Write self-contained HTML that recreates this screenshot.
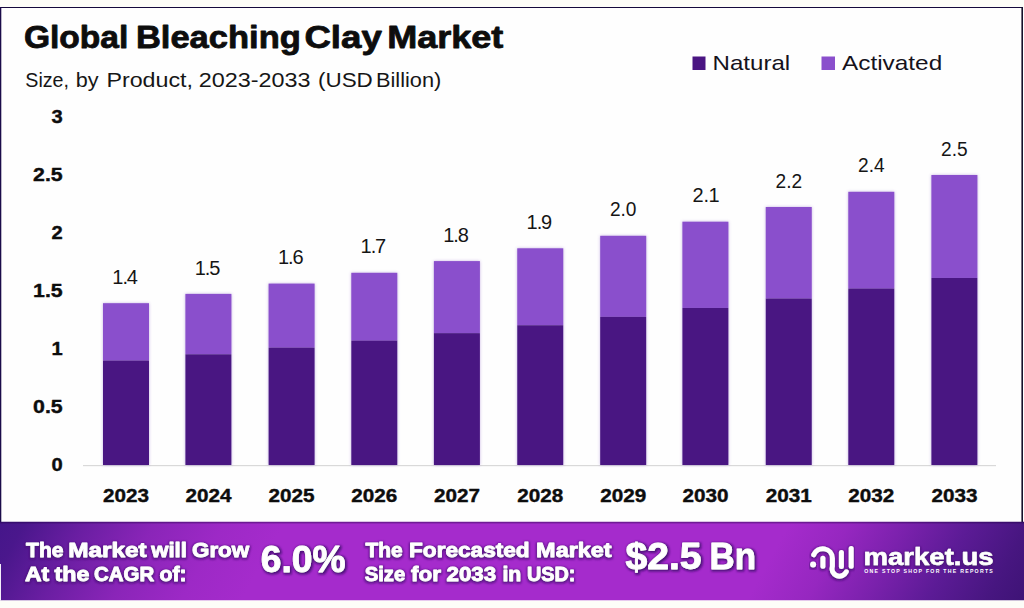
<!DOCTYPE html>
<html lang="en"><head><meta charset="utf-8"><title>Global Bleaching Clay Market</title>
<style>
html,body{margin:0;padding:0;background:#fefefe;}
body{width:1024px;height:608px;overflow:hidden;font-family:"Liberation Sans",sans-serif;}
svg{display:block;font-family:"Liberation Sans",sans-serif;}
</style></head><body>
<svg width="1024" height="608" viewBox="0 0 1024 608">
<defs>
<linearGradient id="band" gradientUnits="userSpaceOnUse" x1="0" y1="522" x2="819.1" y2="972.5">
<stop offset="0.0000" stop-color="#45168a"/>
<stop offset="0.0234" stop-color="#4a178c"/>
<stop offset="0.0797" stop-color="#6a1ea2"/>
<stop offset="0.1453" stop-color="#8a25b8"/>
<stop offset="0.2109" stop-color="#9d29c6"/>
<stop offset="0.2671" stop-color="#a52bcc"/>
<stop offset="0.7405" stop-color="#a52bcc"/>
<stop offset="0.7967" stop-color="#9627c0"/>
<stop offset="0.8529" stop-color="#7a21ac"/>
<stop offset="0.9092" stop-color="#5c1b96"/>
<stop offset="0.9654" stop-color="#471680"/>
<stop offset="1.0000" stop-color="#3e1376"/>
</linearGradient>
<filter id="sh" x="-10%" y="-30%" width="120%" height="170%">
<feMorphology in="SourceAlpha" operator="dilate" radius="1.3" result="d"/>
<feGaussianBlur in="d" stdDeviation="1.2" result="b"/>
<feOffset in="b" dx="1.0" dy="1.3" result="o"/>
<feFlood flood-color="#4b1079" flood-opacity="0.95"/>
<feComposite in2="o" operator="in" result="s"/>
<feMerge><feMergeNode in="s"/><feMergeNode in="SourceGraphic"/></feMerge>
</filter>
<filter id="sh2" x="-10%" y="-30%" width="120%" height="170%">
<feMorphology in="SourceAlpha" operator="dilate" radius="0.6" result="d"/>
<feGaussianBlur in="d" stdDeviation="1.0" result="b"/>
<feOffset in="b" dx="0.4" dy="0.8" result="o"/>
<feFlood flood-color="#4b1079" flood-opacity="0.8"/>
<feComposite in2="o" operator="in" result="s"/>
<feMerge><feMergeNode in="s"/><feMergeNode in="SourceGraphic"/></feMerge>
</filter>
<filter id="bsh" x="-20%" y="-5%" width="140%" height="110%">
<feDropShadow dx="0" dy="0" stdDeviation="1.5" flood-color="#7a4fc0" flood-opacity="0.45"/>
</filter>
</defs>

<rect x="0" y="0" width="1024" height="608" fill="#fefefe"/>
<rect x="0" y="0" width="1024" height="7" fill="#fdfdf8"/>
<rect x="0" y="7" width="1023" height="1" fill="#15093c"/>
<rect x="0" y="7" width="1.3" height="516" fill="#1b0b4a"/>
<rect x="1021.4" y="7" width="1.6" height="516" fill="#14102a"/>
<text x="23.9" y="47.5" font-size="31.1" font-weight="bold" fill="#0d0d0d" text-anchor="start" textLength="104.4" lengthAdjust="spacingAndGlyphs" stroke="#0d0d0d" stroke-width="0.8" stroke-linejoin="round">Global</text>
<text x="135.9" y="47.5" font-size="31.1" font-weight="bold" fill="#0d0d0d" text-anchor="start" textLength="164.9" lengthAdjust="spacingAndGlyphs" stroke="#0d0d0d" stroke-width="0.8" stroke-linejoin="round">Bleaching</text>
<text x="304.4" y="47.5" font-size="31.1" font-weight="bold" fill="#0d0d0d" text-anchor="start" textLength="77.4" lengthAdjust="spacingAndGlyphs" stroke="#0d0d0d" stroke-width="0.8" stroke-linejoin="round">Clay</text>
<text x="387.15" y="47.5" font-size="31.1" font-weight="bold" fill="#0d0d0d" text-anchor="start" textLength="116.2" lengthAdjust="spacingAndGlyphs" stroke="#0d0d0d" stroke-width="0.8" stroke-linejoin="round">Market</text>
<text x="25.3" y="87" font-size="20" font-weight="normal" fill="#161616" text-anchor="start" textLength="43.7" lengthAdjust="spacingAndGlyphs">Size,</text>
<text x="75.7" y="87" font-size="20" font-weight="normal" fill="#161616" text-anchor="start" textLength="22.8" lengthAdjust="spacingAndGlyphs">by</text>
<text x="106.4" y="87" font-size="20" font-weight="normal" fill="#161616" text-anchor="start" textLength="86.6" lengthAdjust="spacingAndGlyphs">Product,</text>
<text x="198.8" y="87" font-size="20" font-weight="normal" fill="#161616" text-anchor="start" textLength="111.8" lengthAdjust="spacingAndGlyphs">2023-2033</text>
<text x="318.0" y="87" font-size="20" font-weight="normal" fill="#161616" text-anchor="start" textLength="54.8" lengthAdjust="spacingAndGlyphs">(USD</text>
<text x="376.0" y="87" font-size="20" font-weight="normal" fill="#161616" text-anchor="start" textLength="65.3" lengthAdjust="spacingAndGlyphs">Billion)</text>
<rect x="692.5" y="56.5" width="13" height="13.5" fill="#4a1582"/>
<text x="712.6" y="69.5" font-size="20.3" font-weight="normal" fill="#15121c" text-anchor="start" textLength="77.6" lengthAdjust="spacingAndGlyphs">Natural</text>
<rect x="821.5" y="56.5" width="13.5" height="13.5" fill="#8a4fcc"/>
<text x="842.0" y="69.5" font-size="20.3" font-weight="normal" fill="#15121c" text-anchor="start" textLength="100.2" lengthAdjust="spacingAndGlyphs">Activated</text>
<text x="62.7" y="470.7" font-size="18.9" font-weight="bold" fill="#0d0d0d" text-anchor="end" textLength="11.2" lengthAdjust="spacingAndGlyphs" stroke="#0d0d0d" stroke-width="0.4" stroke-linejoin="round">0</text>
<text x="62.7" y="412.7" font-size="18.9" font-weight="bold" fill="#0d0d0d" text-anchor="end" textLength="29.6" lengthAdjust="spacingAndGlyphs" stroke="#0d0d0d" stroke-width="0.4" stroke-linejoin="round">0.5</text>
<text x="62.7" y="354.7" font-size="18.9" font-weight="bold" fill="#0d0d0d" text-anchor="end" textLength="11.2" lengthAdjust="spacingAndGlyphs" stroke="#0d0d0d" stroke-width="0.4" stroke-linejoin="round">1</text>
<text x="62.7" y="296.7" font-size="18.9" font-weight="bold" fill="#0d0d0d" text-anchor="end" textLength="29.6" lengthAdjust="spacingAndGlyphs" stroke="#0d0d0d" stroke-width="0.4" stroke-linejoin="round">1.5</text>
<text x="62.7" y="238.7" font-size="18.9" font-weight="bold" fill="#0d0d0d" text-anchor="end" textLength="11.2" lengthAdjust="spacingAndGlyphs" stroke="#0d0d0d" stroke-width="0.4" stroke-linejoin="round">2</text>
<text x="62.7" y="180.7" font-size="18.9" font-weight="bold" fill="#0d0d0d" text-anchor="end" textLength="29.6" lengthAdjust="spacingAndGlyphs" stroke="#0d0d0d" stroke-width="0.4" stroke-linejoin="round">2.5</text>
<text x="62.7" y="122.7" font-size="18.9" font-weight="bold" fill="#0d0d0d" text-anchor="end" textLength="11.2" lengthAdjust="spacingAndGlyphs" stroke="#0d0d0d" stroke-width="0.4" stroke-linejoin="round">3</text>
<rect x="83" y="465" width="913" height="1.2" fill="#d9d9d9"/>
<g filter="url(#bsh)">
<rect x="103.00" y="303.20" width="46.0" height="57.35" fill="#8a4fcc"/>
<rect x="103.00" y="360.55" width="46.0" height="104.45" fill="#4a1582"/>
<rect x="185.40" y="293.90" width="46.0" height="60.39" fill="#8a4fcc"/>
<rect x="185.40" y="354.29" width="46.0" height="110.71" fill="#4a1582"/>
<rect x="268.60" y="283.60" width="46.0" height="64.04" fill="#8a4fcc"/>
<rect x="268.60" y="347.64" width="46.0" height="117.36" fill="#4a1582"/>
<rect x="351.30" y="272.80" width="46.0" height="67.80" fill="#8a4fcc"/>
<rect x="351.30" y="340.60" width="46.0" height="124.40" fill="#4a1582"/>
<rect x="433.90" y="261.10" width="46.0" height="72.04" fill="#8a4fcc"/>
<rect x="433.90" y="333.14" width="46.0" height="131.86" fill="#4a1582"/>
<rect x="517.25" y="248.30" width="46.0" height="76.93" fill="#8a4fcc"/>
<rect x="517.25" y="325.23" width="46.0" height="139.77" fill="#4a1582"/>
<rect x="600.20" y="235.80" width="46.0" height="81.04" fill="#8a4fcc"/>
<rect x="600.20" y="316.84" width="46.0" height="148.16" fill="#4a1582"/>
<rect x="682.40" y="221.70" width="46.0" height="86.25" fill="#8a4fcc"/>
<rect x="682.40" y="307.95" width="46.0" height="157.05" fill="#4a1582"/>
<rect x="765.75" y="207.00" width="46.0" height="91.53" fill="#8a4fcc"/>
<rect x="765.75" y="298.53" width="46.0" height="166.47" fill="#4a1582"/>
<rect x="848.30" y="191.80" width="46.0" height="96.74" fill="#8a4fcc"/>
<rect x="848.30" y="288.54" width="46.0" height="176.46" fill="#4a1582"/>
<rect x="931.40" y="175.00" width="46.0" height="102.95" fill="#8a4fcc"/>
<rect x="931.40" y="277.95" width="46.0" height="187.05" fill="#4a1582"/>
</g>
<text x="125.1" y="283.8" font-size="20" font-weight="normal" fill="#151515" text-anchor="middle">1<tspan dx="-1.0">.</tspan><tspan dx="-1.2">4</tspan></text>
<text x="103.0" y="501.5" font-size="18.9" font-weight="bold" fill="#0d0d0d" text-anchor="start" textLength="46" lengthAdjust="spacingAndGlyphs" stroke="#0d0d0d" stroke-width="0.4" stroke-linejoin="round">2023</text>
<text x="207.5" y="274.5" font-size="20" font-weight="normal" fill="#151515" text-anchor="middle">1<tspan dx="-1.0">.</tspan><tspan dx="-1.2">5</tspan></text>
<text x="185.4" y="501.5" font-size="18.9" font-weight="bold" fill="#0d0d0d" text-anchor="start" textLength="46" lengthAdjust="spacingAndGlyphs" stroke="#0d0d0d" stroke-width="0.4" stroke-linejoin="round">2024</text>
<text x="290.7" y="264.2" font-size="20" font-weight="normal" fill="#151515" text-anchor="middle">1<tspan dx="-1.0">.</tspan><tspan dx="-1.2">6</tspan></text>
<text x="268.6" y="501.5" font-size="18.9" font-weight="bold" fill="#0d0d0d" text-anchor="start" textLength="46" lengthAdjust="spacingAndGlyphs" stroke="#0d0d0d" stroke-width="0.4" stroke-linejoin="round">2025</text>
<text x="373.4" y="253.4" font-size="20" font-weight="normal" fill="#151515" text-anchor="middle">1<tspan dx="-1.0">.</tspan><tspan dx="-1.2">7</tspan></text>
<text x="351.3" y="501.5" font-size="18.9" font-weight="bold" fill="#0d0d0d" text-anchor="start" textLength="46" lengthAdjust="spacingAndGlyphs" stroke="#0d0d0d" stroke-width="0.4" stroke-linejoin="round">2026</text>
<text x="456.0" y="241.7" font-size="20" font-weight="normal" fill="#151515" text-anchor="middle">1<tspan dx="-1.0">.</tspan><tspan dx="-1.2">8</tspan></text>
<text x="433.9" y="501.5" font-size="18.9" font-weight="bold" fill="#0d0d0d" text-anchor="start" textLength="46" lengthAdjust="spacingAndGlyphs" stroke="#0d0d0d" stroke-width="0.4" stroke-linejoin="round">2027</text>
<text x="539.4" y="228.9" font-size="20" font-weight="normal" fill="#151515" text-anchor="middle">1<tspan dx="-1.0">.</tspan><tspan dx="-1.2">9</tspan></text>
<text x="517.2" y="501.5" font-size="18.9" font-weight="bold" fill="#0d0d0d" text-anchor="start" textLength="46" lengthAdjust="spacingAndGlyphs" stroke="#0d0d0d" stroke-width="0.4" stroke-linejoin="round">2028</text>
<text x="623.2" y="216.4" font-size="20" font-weight="normal" fill="#151515" text-anchor="middle" textLength="26.6" lengthAdjust="spacingAndGlyphs">2.0</text>
<text x="600.2" y="501.5" font-size="18.9" font-weight="bold" fill="#0d0d0d" text-anchor="start" textLength="46" lengthAdjust="spacingAndGlyphs" stroke="#0d0d0d" stroke-width="0.4" stroke-linejoin="round">2029</text>
<text x="706.0" y="202.3" font-size="20" font-weight="normal" fill="#151515" text-anchor="middle">2.<tspan dx="-0.6">1</tspan></text>
<text x="682.4" y="501.5" font-size="18.9" font-weight="bold" fill="#0d0d0d" text-anchor="start" textLength="46" lengthAdjust="spacingAndGlyphs" stroke="#0d0d0d" stroke-width="0.4" stroke-linejoin="round">2030</text>
<text x="788.8" y="187.6" font-size="20" font-weight="normal" fill="#151515" text-anchor="middle" textLength="26.6" lengthAdjust="spacingAndGlyphs">2.2</text>
<text x="765.8" y="501.5" font-size="18.9" font-weight="bold" fill="#0d0d0d" text-anchor="start" textLength="46" lengthAdjust="spacingAndGlyphs" stroke="#0d0d0d" stroke-width="0.4" stroke-linejoin="round">2031</text>
<text x="871.3" y="172.4" font-size="20" font-weight="normal" fill="#151515" text-anchor="middle" textLength="26.6" lengthAdjust="spacingAndGlyphs">2.4</text>
<text x="848.3" y="501.5" font-size="18.9" font-weight="bold" fill="#0d0d0d" text-anchor="start" textLength="46" lengthAdjust="spacingAndGlyphs" stroke="#0d0d0d" stroke-width="0.4" stroke-linejoin="round">2032</text>
<text x="954.4" y="155.6" font-size="20" font-weight="normal" fill="#151515" text-anchor="middle" textLength="26.6" lengthAdjust="spacingAndGlyphs">2.5</text>
<text x="931.4" y="501.5" font-size="18.9" font-weight="bold" fill="#0d0d0d" text-anchor="start" textLength="46" lengthAdjust="spacingAndGlyphs" stroke="#0d0d0d" stroke-width="0.4" stroke-linejoin="round">2033</text>
<rect x="0" y="521.8" width="1024" height="78.7" fill="url(#band)"/>
<rect x="0" y="521.8" width="1024" height="1.6" fill="#1a0040" fill-opacity="0.38"/>
<rect x="0" y="564" width="1" height="36.5" fill="#f3eefa"/>
<rect x="0" y="600.5" width="1024" height="8" fill="#fdfdf8"/>
<text x="26.0" y="557" font-size="20.5" font-weight="bold" fill="#ffffff" text-anchor="start" textLength="37.5" lengthAdjust="spacingAndGlyphs" filter="url(#sh2)" stroke="#ffffff" stroke-width="0.8" stroke-linejoin="round">The</text>
<text x="68.2" y="557" font-size="20.5" font-weight="bold" fill="#ffffff" text-anchor="start" textLength="78.5" lengthAdjust="spacingAndGlyphs" filter="url(#sh2)" stroke="#ffffff" stroke-width="0.8" stroke-linejoin="round">Market</text>
<text x="151.3" y="557" font-size="20.5" font-weight="bold" fill="#ffffff" text-anchor="start" textLength="35.6" lengthAdjust="spacingAndGlyphs" filter="url(#sh2)" stroke="#ffffff" stroke-width="0.8" stroke-linejoin="round">will</text>
<text x="192.0" y="557" font-size="20.5" font-weight="bold" fill="#ffffff" text-anchor="start" textLength="57.2" lengthAdjust="spacingAndGlyphs" filter="url(#sh2)" stroke="#ffffff" stroke-width="0.8" stroke-linejoin="round">Grow</text>
<text x="25.0" y="581.3" font-size="20.5" font-weight="bold" fill="#ffffff" text-anchor="start" textLength="24.2" lengthAdjust="spacingAndGlyphs" filter="url(#sh2)" stroke="#ffffff" stroke-width="0.8" stroke-linejoin="round">At</text>
<text x="54.5" y="581.3" font-size="20.5" font-weight="bold" fill="#ffffff" text-anchor="start" textLength="34.8" lengthAdjust="spacingAndGlyphs" filter="url(#sh2)" stroke="#ffffff" stroke-width="0.8" stroke-linejoin="round">the</text>
<text x="94.0" y="581.3" font-size="20.5" font-weight="bold" fill="#ffffff" text-anchor="start" textLength="60.2" lengthAdjust="spacingAndGlyphs" filter="url(#sh2)" stroke="#ffffff" stroke-width="0.8" stroke-linejoin="round">CAGR</text>
<text x="159.5" y="581.3" font-size="20.5" font-weight="bold" fill="#ffffff" text-anchor="start" textLength="27.2" lengthAdjust="spacingAndGlyphs" filter="url(#sh2)" stroke="#ffffff" stroke-width="0.8" stroke-linejoin="round">of:</text>
<text x="260.8" y="571.9" font-size="36" font-weight="bold" fill="#ffffff" text-anchor="start" textLength="84.8" lengthAdjust="spacingAndGlyphs" filter="url(#sh)" stroke="#ffffff" stroke-width="0.8" stroke-linejoin="round">6.0%</text>
<text x="365.5" y="557" font-size="20.5" font-weight="bold" fill="#ffffff" text-anchor="start" textLength="37.1" lengthAdjust="spacingAndGlyphs" filter="url(#sh2)" stroke="#ffffff" stroke-width="0.8" stroke-linejoin="round">The</text>
<text x="409.0" y="557" font-size="20.5" font-weight="bold" fill="#ffffff" text-anchor="start" textLength="120.7" lengthAdjust="spacingAndGlyphs" filter="url(#sh2)" stroke="#ffffff" stroke-width="0.8" stroke-linejoin="round">Forecasted</text>
<text x="536.1" y="557" font-size="20.5" font-weight="bold" fill="#ffffff" text-anchor="start" textLength="75.6" lengthAdjust="spacingAndGlyphs" filter="url(#sh2)" stroke="#ffffff" stroke-width="0.8" stroke-linejoin="round">Market</text>
<text x="364.7" y="581.3" font-size="20.5" font-weight="bold" fill="#ffffff" text-anchor="start" textLength="40.6" lengthAdjust="spacingAndGlyphs" filter="url(#sh2)" stroke="#ffffff" stroke-width="0.8" stroke-linejoin="round">Size</text>
<text x="410.9" y="581.3" font-size="20.5" font-weight="bold" fill="#ffffff" text-anchor="start" textLength="30.0" lengthAdjust="spacingAndGlyphs" filter="url(#sh2)" stroke="#ffffff" stroke-width="0.8" stroke-linejoin="round">for</text>
<text x="446.5" y="581.3" font-size="20.5" font-weight="bold" fill="#ffffff" text-anchor="start" textLength="49.7" lengthAdjust="spacingAndGlyphs" filter="url(#sh2)" stroke="#ffffff" stroke-width="0.8" stroke-linejoin="round">2033</text>
<text x="502.4" y="581.3" font-size="20.5" font-weight="bold" fill="#ffffff" text-anchor="start" textLength="18.9" lengthAdjust="spacingAndGlyphs" filter="url(#sh2)" stroke="#ffffff" stroke-width="0.8" stroke-linejoin="round">in</text>
<text x="526.9" y="581.3" font-size="20.5" font-weight="bold" fill="#ffffff" text-anchor="start" textLength="48.4" lengthAdjust="spacingAndGlyphs" filter="url(#sh2)" stroke="#ffffff" stroke-width="0.8" stroke-linejoin="round">USD:</text>
<text x="625.5" y="568.9" font-size="36" font-weight="bold" fill="#ffffff" text-anchor="start" textLength="76" lengthAdjust="spacingAndGlyphs" filter="url(#sh)" stroke="#ffffff" stroke-width="0.8" stroke-linejoin="round">$2.5</text>
<text x="709.5" y="568.9" font-size="36" font-weight="bold" fill="#ffffff" text-anchor="start" textLength="46.5" lengthAdjust="spacingAndGlyphs" filter="url(#sh)" stroke="#ffffff" stroke-width="0.8" stroke-linejoin="round">Bn</text>
<g fill="none" stroke="#ffffff" stroke-width="5" stroke-linecap="round" stroke-linejoin="round" filter="url(#sh2)">
<path d="M813.7 554.8 A9.7 9.7 0 0 1 832.4 558.3 L832.4 566.2 A7.5 7.5 0 0 0 846.3 571.8"/>
<path d="M822.9 558.3 L822.9 566.3"/>
<path d="M841.4 552.4 L841.4 566.5"/>
<path d="M851.2 548.5 L851.2 566.2"/>
</g>
<circle cx="813.1" cy="564.5" r="3" fill="#ffffff" filter="url(#sh2)"/>
<text x="863.6" y="565" font-size="24.5" font-weight="bold" fill="#ffffff" text-anchor="start" textLength="130" lengthAdjust="spacingAndGlyphs" filter="url(#sh2)" stroke="#ffffff" stroke-width="0.5" stroke-linejoin="round">market.us</text>
<text x="864.2" y="573.1" font-size="5.2" font-weight="bold" fill="#ffffff" text-anchor="start" textLength="128.6" lengthAdjust="spacing">ONE STOP SHOP FOR THE REPORTS</text>
</svg></body></html>
